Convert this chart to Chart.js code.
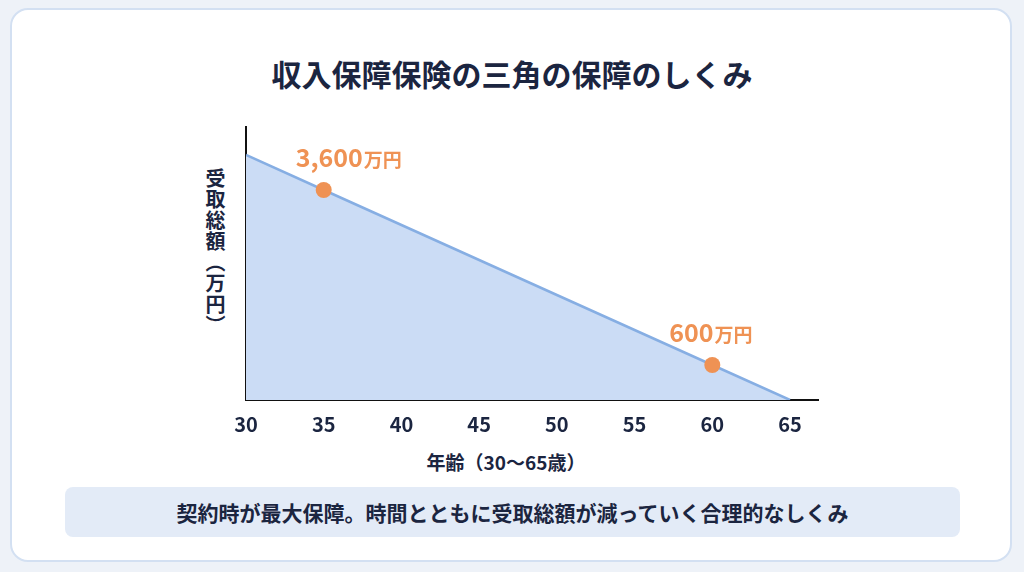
<!DOCTYPE html>
<html><head><meta charset="utf-8">
<script src="https://cdn.jsdelivr.net/npm/chart.js@4"></script>
<style>
body{margin:0;width:1024px;height:572px;background:#eef2f8;font-family:"Noto Sans CJK JP","Noto Sans",sans-serif;overflow:hidden;position:relative}
.card{position:absolute;left:10px;top:8px;width:1002px;height:554px;background:#fff;border:2px solid #d3e0f2;border-radius:18px;box-sizing:border-box}
h1{position:absolute;left:0;width:1024px;top:51px;margin:0;text-align:center;font-size:30px;font-weight:700;color:#1b2540}
.ytitle{position:absolute;left:201px;top:168px;writing-mode:vertical-rl;font-size:20px;font-weight:700;color:#1b2540;letter-spacing:1px}
.xtitle{position:absolute;width:1024px;left:-6px;top:448px;text-align:center;font-size:19px;font-weight:700;color:#1b2540}
.note{position:absolute;left:65px;top:487px;width:895px;height:50px;background:#e3ebf7;border-radius:8px;font-size:21px;font-weight:700;color:#1b2540;line-height:50px;text-align:center}
#c{position:absolute;left:0;top:0}
</style></head><body>
<div class="card"></div>
<h1>収入保障保険の三角の保障のしくみ</h1>
<div class="ytitle">受取総額（万円）</div>
<div class="xtitle">年齢（30〜65歳）</div>
<div class="note">契約時が最大保障。時間とともに受取総額が減っていく合理的なしくみ</div>
<canvas id="c" width="1024" height="572" style="width:1024px;height:572px"></canvas>
<script>
const ages=[30,35,60,65];
const amounts=[4200,3600,600,0];
const labelNums=[null,"3,600","600",null];
const labelUnit="万円";
const xTicks=[30,35,40,45,50,55,60,65];
const orange="#ef9254";
const labelPlugin={id:'lbl',afterDatasetsDraw(ch){
 const ctx=ch.ctx;const meta=ch.getDatasetMeta(0);
 meta.data.forEach((p,i)=>{if(!labelNums[i])return;
  ctx.save();ctx.fillStyle=orange;ctx.textBaseline='alphabetic';
  ctx.font='700 25px "Noto Sans CJK JP"';
  const offs=i===1?-28:-43;
  const x=p.x+offs,y=p.y-23;
  ctx.fillText(labelNums[i],x,y);
  const w=ctx.measureText(labelNums[i]).width;
  ctx.font='700 19px "Noto Sans CJK JP"';
  ctx.fillText(labelUnit,x+w+1,y);ctx.restore();});
}};
new Chart(document.getElementById('c'),{type:'line',
data:{datasets:[{data:ages.map((a,i)=>({x:a,y:amounts[i]})),borderColor:'#86aee3',borderWidth:2.5,fill:'origin',backgroundColor:'#cbdcf5',
 pointRadius:amounts.map((v,i)=>labelNums[i]?8:0),pointBackgroundColor:orange,pointBorderWidth:0,tension:0}]},
options:{responsive:false,animation:false,devicePixelRatio:1,
 layout:{padding:{left:246,right:206,top:127,bottom:132}},
 plugins:{legend:{display:false},tooltip:{enabled:false}},
 scales:{
  x:{type:'linear',min:30,max:66.8,grid:{display:false,drawTicks:false},border:{color:'#111',width:2},
   afterBuildTicks(s){s.ticks=xTicks.map(v=>({value:v}));},
   afterFit(s){s.height=40;},
   ticks:{color:'#1b2540',font:{size:20,weight:'700',family:'"Noto Sans CJK JP"'},padding:12,maxRotation:0}},
  y:{min:0,max:4680,grid:{display:false,drawTicks:false},border:{color:'#111',width:2},ticks:{display:false},afterFit(s){s.width=0;}}
 }},plugins:[labelPlugin]});
</script>
</body></html>
